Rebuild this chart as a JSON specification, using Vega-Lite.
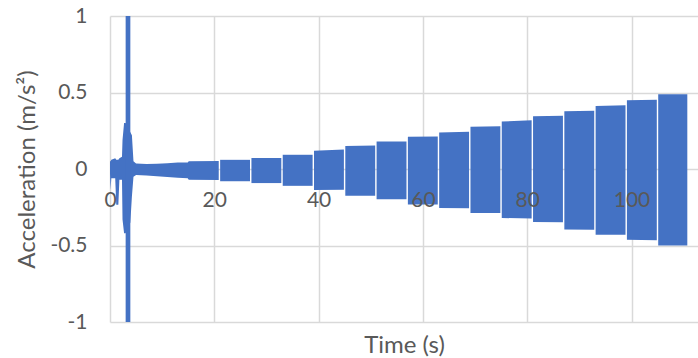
{
  "$schema": "https://vega.github.io/schema/vega-lite/v6.json",
  "width": 588,
  "height": 306,
  "autosize": {"type": "none"},
  "padding": {"left": 110, "top": 16, "right": 0, "bottom": 36},
  "background": "white",
  "config": {"view": {"stroke": null}, "font": "Lato"},
  "data": {
    "values": [
      {"seg": "a", "t": 0, "hi": 0.05, "lo": -0.03},
      {"seg": "a", "t": 0.1, "hi": 0.05, "lo": -0.135},
      {"seg": "a", "t": 0.25, "hi": 0.06, "lo": -0.06},
      {"seg": "a", "t": 1.0, "hi": 0.07, "lo": -0.06},
      {"seg": "a", "t": 1.2, "hi": 0.06, "lo": -0.233},
      {"seg": "a", "t": 1.6, "hi": 0.06, "lo": -0.233},
      {"seg": "a", "t": 1.8, "hi": 0.07, "lo": -0.07},
      {"seg": "a", "t": 2.3, "hi": 0.08, "lo": -0.07},
      {"seg": "a", "t": 2.4, "hi": 0.19, "lo": -0.33},
      {"seg": "a", "t": 2.7, "hi": 0.3, "lo": -0.42},
      {"seg": "a", "t": 3.0, "hi": 0.3, "lo": -0.42},
      {"seg": "a", "t": 3.9, "hi": 0.24, "lo": -0.35},
      {"seg": "a", "t": 4.2, "hi": 0.22, "lo": -0.18},
      {"seg": "a", "t": 4.5, "hi": 0.05, "lo": -0.05},
      {"seg": "a", "t": 5, "hi": 0.036, "lo": -0.04},
      {"seg": "a", "t": 7, "hi": 0.032, "lo": -0.042},
      {"seg": "a", "t": 9, "hi": 0.035, "lo": -0.047},
      {"seg": "a", "t": 11, "hi": 0.037, "lo": -0.052},
      {"seg": "a", "t": 13, "hi": 0.042, "lo": -0.058},
      {"seg": "a", "t": 14.9, "hi": 0.042, "lo": -0.06},
      {"seg": "a", "t": 15.1, "hi": 0.05, "lo": -0.07},
      {"seg": "a", "t": 20.85, "hi": 0.052, "lo": -0.072},
      {"seg": "spike", "t": 3.0, "hi": 1, "lo": -1},
      {"seg": "spike", "t": 3.9, "hi": 1, "lo": -1},
      {"seg": "b21", "t": 21.12, "hi": 0.06, "lo": -0.08},
      {"seg": "b21", "t": 26.85, "hi": 0.06, "lo": -0.08},
      {"seg": "b27", "t": 27.12, "hi": 0.072, "lo": -0.092},
      {"seg": "b27", "t": 32.85, "hi": 0.072, "lo": -0.092},
      {"seg": "b33", "t": 33.12, "hi": 0.093, "lo": -0.11},
      {"seg": "b33", "t": 38.85, "hi": 0.093, "lo": -0.11},
      {"seg": "b39", "t": 39.12, "hi": 0.12, "lo": -0.138},
      {"seg": "b39", "t": 44.85, "hi": 0.128, "lo": -0.136},
      {"seg": "b45", "t": 45.12, "hi": 0.15, "lo": -0.175},
      {"seg": "b45", "t": 50.85, "hi": 0.154, "lo": -0.175},
      {"seg": "b51", "t": 51.12, "hi": 0.18, "lo": -0.197},
      {"seg": "b51", "t": 56.85, "hi": 0.18, "lo": -0.197},
      {"seg": "b57", "t": 57.12, "hi": 0.21, "lo": -0.232},
      {"seg": "b57", "t": 62.85, "hi": 0.212, "lo": -0.232},
      {"seg": "b63", "t": 63.12, "hi": 0.238, "lo": -0.255},
      {"seg": "b63", "t": 68.85, "hi": 0.243, "lo": -0.257},
      {"seg": "b69", "t": 69.12, "hi": 0.276, "lo": -0.287},
      {"seg": "b69", "t": 74.85, "hi": 0.28, "lo": -0.287},
      {"seg": "b75", "t": 75.12, "hi": 0.31, "lo": -0.32},
      {"seg": "b75", "t": 80.85, "hi": 0.318, "lo": -0.324},
      {"seg": "b81", "t": 81.12, "hi": 0.345, "lo": -0.346},
      {"seg": "b81", "t": 86.85, "hi": 0.348, "lo": -0.348},
      {"seg": "b87", "t": 87.12, "hi": 0.378, "lo": -0.395},
      {"seg": "b87", "t": 92.85, "hi": 0.381, "lo": -0.397},
      {"seg": "b93", "t": 93.12, "hi": 0.412, "lo": -0.43},
      {"seg": "b93", "t": 98.85, "hi": 0.417, "lo": -0.43},
      {"seg": "b99", "t": 99.12, "hi": 0.45, "lo": -0.463},
      {"seg": "b99", "t": 104.85, "hi": 0.453, "lo": -0.465},
      {"seg": "b105", "t": 105.12, "hi": 0.489, "lo": -0.5},
      {"seg": "b105", "t": 110.7, "hi": 0.489, "lo": -0.5}
    ]
  },
  "encoding": {
    "y": {
      "field": "hi",
      "type": "quantitative",
      "scale": {"domain": [-1, 1], "nice": false},
      "axis": {
        "values": [-1, -0.5, 0, 0.5, 1],
        "labelExpr": "'' + datum.value",
        "grid": true,
        "gridColor": "#d9d9d9",
        "gridWidth": 1.5,
        "domain": false,
        "ticks": false,
        "labelPadding": 23,
        "labelFontSize": 21,
        "labelColor": "#595959",
        "labelFont": "Lato",
        "title": "Acceleration (m/s²)",
        "titleFont": "Lato",
        "titleFontSize": 24,
        "titleFontWeight": "normal",
        "titleColor": "#595959",
        "titleX": -83,
        "titleBaseline": "middle",
        "titleAlign": "center",
        "titleAngle": -90
      }
    }
  },
  "layer": [
    {
      "mark": {"type": "area", "color": "#4472C4", "interpolate": "linear", "clip": true},
      "encoding": {
        "x": {
          "field": "t",
          "type": "quantitative",
          "scale": {"domain": [0, 112.75], "nice": false, "zero": false},
          "axis": {
            "orient": "bottom",
            "values": [0, 20, 40, 60, 80, 100],
            "grid": true,
            "gridColor": "#d9d9d9",
            "gridWidth": 1.5,
            "labels": false,
            "ticks": false,
            "domain": false,
            "title": null
          }
        },
        "y2": {"field": "lo"},
        "detail": {"field": "seg"}
      }
    },
    {
      "mark": {"type": "point", "opacity": 0},
      "encoding": {
        "x": {
          "field": "t",
          "type": "quantitative",
          "scale": {"domain": [0, 112.75], "nice": false, "zero": false},
          "axis": {
            "orient": "bottom",
            "values": [0, 20, 40, 60, 80, 100],
            "offset": -153,
            "grid": false,
            "ticks": false,
            "domain": false,
            "labelFlush": false,
            "labelPadding": 20,
            "labelFontSize": 21,
            "labelColor": "#595959",
            "labelFont": "Lato",
            "zindex": 1,
            "title": "Time (s)",
            "titleFont": "Lato",
            "titleFontSize": 24,
            "titleFontWeight": "normal",
            "titleColor": "#595959",
            "titleY": 176,
            "titleBaseline": "middle"
          }
        }
      }
    }
  ],
  "resolve": {"axis": {"x": "independent"}}
}
